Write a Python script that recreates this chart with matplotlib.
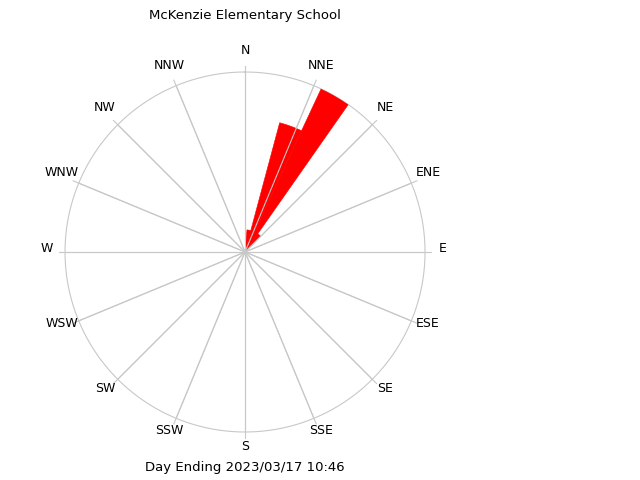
import numpy as np
import matplotlib
matplotlib.use("Agg")
import matplotlib.pyplot as plt
import matplotlib.transforms as mtransforms

# wind direction bins (deg from north, clockwise) and frequency (%)
bin_centers = [10, 20, 30, 40]
bin_freq = [3.7, 22.3, 30.0, 3.7]
bin_width = 10
r_max = 30.0

compass = ['N', 'NNE', 'NE', 'ENE', 'E', 'ESE', 'SE', 'SSE',
           'S', 'SSW', 'SW', 'WSW', 'W', 'WNW', 'NW', 'NNW']

title = "McKenzie Elementary School"
footer = "Day Ending 2023/03/17 10:46"

fig = plt.figure(figsize=(6.4, 4.8), dpi=100)
ax = fig.add_axes([0.1016, 0.1, 0.5625, 0.75], polar=True)
ax.set_theta_zero_location('N')
ax.set_theta_direction(-1)
ax.set_ylim(0, r_max)
ax.grid(False)
ax.set_xticks([])
ax.set_yticks([])
ax.spines['polar'].set_visible(False)
ax.patch.set_visible(False)

gray = '#c8c8c8'
# outer ring
t = np.linspace(0, 2 * np.pi, 400)
ax.plot(t, np.full_like(t, r_max), color=gray, lw=0.8, clip_on=False)

# labels sit a few pixels higher than the ring
lift = mtransforms.offset_copy(ax.transData, fig=fig, x=0, y=4, units='dots')

# spokes and direction names
for i, name in enumerate(compass):
    ang = np.deg2rad(i * 22.5)
    ax.plot([ang, ang], [0, r_max * 186 / 180], color=gray, lw=0.8, clip_on=False, zorder=1)
    ax.text(ang, r_max * 198 / 180, name, ha='center', va='center', fontsize=9,
            transform=lift)

# red petals
ax.bar(np.deg2rad(bin_centers), bin_freq, width=np.deg2rad(bin_width),
       color='#ff0000', edgecolor='#ff0000', linewidth=0.4, zorder=2)
# spokes show through the petals
for i in range(16):
    ang = np.deg2rad(i * 22.5)
    ax.plot([ang, ang], [0, r_max], color=gray, lw=0.8, zorder=3)

fig.text(245 / 640, 1 - 15 / 480, title, ha='center', va='center', fontsize=9.5)
fig.text(245 / 640, 1 - 467 / 480, footer, ha='center', va='center', fontsize=9.5)

fig.savefig('out.png', dpi=100)
